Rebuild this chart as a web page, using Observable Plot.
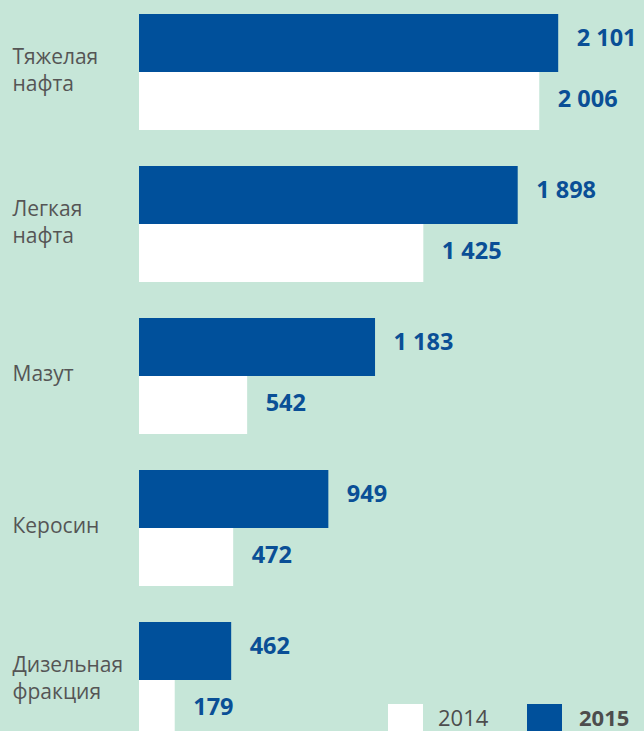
<!DOCTYPE html>
<html>
<head>
<meta charset="utf-8">
<script src="https://cdn.jsdelivr.net/npm/d3@7"></script>
<script src="https://cdn.jsdelivr.net/npm/@observablehq/plot@0.6"></script>
<style>
  html, body { margin: 0; padding: 0; background: #c6e6d8; overflow: hidden; }
  #wrap { position: relative; width: 644px; height: 731px; overflow: hidden; }
  #legend { position: absolute; left: 388px; top: 704px; height: 27px; font-family: "Open Sans", sans-serif; font-size: 22px; color: #4d4d4d; }
  #legend .sw { position: absolute; top: 0; width: 35px; height: 27px; }
  #legend .lb { position: absolute; top: 2px; line-height: 22px; white-space: nowrap; }
</style>
</head>
<body>
<div id="wrap"></div>
<script>
const categories = ["Тяжелая\nнафта", "Легкая\nнафта", "Мазут", "Керосин", "Дизельная\nфракция"];
const years = ["2015", "2014"];
const values2015 = [2101, 1898, 1183, 949, 462];
const values2014 = [2006, 1425, 542, 472, 179];
const labels2015 = ["2 101", "1 898", "1 183", "949", "462"];
const labels2014 = ["2 006", "1 425", "542", "472", "179"];
const yearColors = ["#00509b", "#ffffff"];

const data = categories.flatMap((c, i) => [
  {cat: c, year: "2015", value: values2015[i], label: labels2015[i]},
  {cat: c, year: "2014", value: values2014[i], label: labels2014[i]}
]);

const labelStyle = {fill: "#0a4f96", fontWeight: 700, fontSize: 23.5, fontFamily: "Open Sans, sans-serif", textAnchor: "start", dx: 18};

const chart = Plot.plot({
  width: 644,
  height: 738,
  marginLeft: 139,
  marginRight: 0,
  marginTop: 14,
  marginBottom: 0,
  style: {background: "transparent", fontFamily: "Open Sans, sans-serif"},
  x: {domain: [0, 2531], axis: null},
  fy: {domain: categories, paddingInner: 36 / 152, paddingOuter: 0, axis: null},
  y: {domain: years, padding: 0, axis: null},
  color: {domain: years, range: yearColors},
  marks: [
    Plot.barX(data, {x: "value", y: "year", fy: "cat", fill: "year"}),
    Plot.text(data.filter(d => d.year === "2015"), {x: "value", y: "year", fy: "cat", text: "label", dy: -5, ...labelStyle}),
    Plot.text(data.filter(d => d.year === "2014"), {x: "value", y: "year", fy: "cat", text: "label", dy: -2, ...labelStyle}),
    Plot.text(categories, {fy: d => d, text: d => d, frameAnchor: "left", dx: -127, dy: -4, textAnchor: "start", fill: "#555555", fontSize: 21, lineHeight: 1.3})
  ]
});

const wrap = document.getElementById("wrap");
wrap.appendChild(chart);

const legend = document.createElement("div");
legend.id = "legend";
legend.innerHTML =
  `<div class="sw" style="left:0;background:${yearColors[1]}"></div>` +
  `<div class="lb" style="left:50px">${years[1]}</div>` +
  `<div class="sw" style="left:139px;background:${yearColors[0]}"></div>` +
  `<div class="lb" style="left:191px;font-weight:700">${years[0]}</div>`;
wrap.appendChild(legend);
</script>
</body>
</html>
